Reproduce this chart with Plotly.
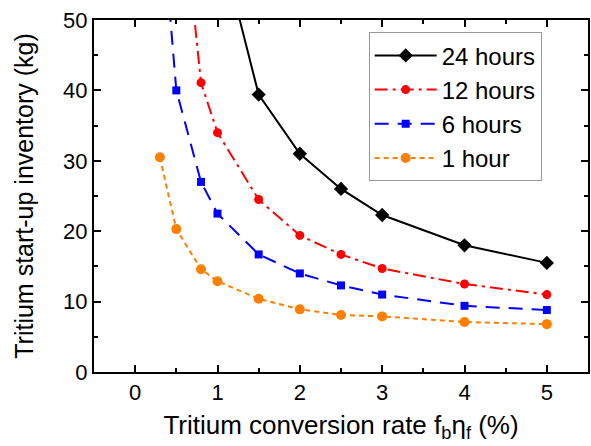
import plotly.graph_objects as go

# Tritium conversion rate f_b*eta_f (%)
x_values = [0.3, 0.5, 0.8, 1.0, 1.5, 2.0, 2.5, 3.0, 4.0, 5.0]

# Start-up inventory (kg) for each reserve time; None where no value is plotted
inv_24h = [None, None, None, 62.5, 39.4, 31.0, 26.0, 22.3, 18.0, 15.5]
inv_12h = [None, 75.0, 41.1, 34.0, 24.5, 19.4, 16.7, 14.7, 12.5, 11.0]
inv_6h = [68.0, 40.0, 27.0, 22.5, 16.7, 14.0, 12.3, 11.0, 9.4, 8.8]
inv_1h = [30.5, 20.3, 14.6, 12.9, 10.4, 8.9, 8.1, 7.9, 7.1, 6.8]

series_names = ["24 hours", "12 hours", "6 hours", "1 hour"]

x_tickvals = [0, 1, 2, 3, 4, 5]
y_tickvals = [0, 10, 20, 30, 40, 50]

FONT = "Liberation Sans, Arial, sans-serif"

styles = [
    dict(color="black", dash="solid", symbol="diamond", size=11),
    dict(color="#ff0000", dash="13px,5px,3px,5px", symbol="circle", size=9),
    dict(color="#0000ff", dash="14px,9px", symbol="square", size=8),
    dict(color="#ff8000", dash="5px,4px", symbol="circle", size=10),
]

fig = go.Figure()
for name, ys, st in zip(series_names, [inv_24h, inv_12h, inv_6h, inv_1h], styles):
    fig.add_trace(go.Scatter(
        x=x_values, y=ys, name=name, mode="lines+markers",
        connectgaps=False,
        line=dict(color=st["color"], width=2, dash=st["dash"]),
        marker=dict(symbol=st["symbol"], size=st["size"], color=st["color"]),
    ))

axis_common = dict(
    showline=True, linecolor="black", linewidth=2, mirror="allticks",
    ticks="inside", ticklen=7, tickwidth=2, tickcolor="black",
    showgrid=False, zeroline=False,
    tickfont=dict(family=FONT, size=22, color="black"),
)

fig.update_xaxes(
    range=[-0.5, 5.5], tickvals=x_tickvals,
    minor=dict(ticks="inside", ticklen=4, tickwidth=2, dtick=0.5, tick0=0, tickcolor="black"),
    title=dict(text="Tritium conversion rate f<sub>b</sub>η<sub>f</sub> (%)",
               font=dict(family=FONT, size=26, color="black"), standoff=11),
    **axis_common,
)
fig.update_yaxes(
    range=[0, 50], tickvals=y_tickvals,
    minor=dict(ticks="inside", ticklen=4, tickwidth=2, dtick=5, tick0=0, tickcolor="black"),
    title=dict(text="Tritium start-up inventory (kg)",
               font=dict(family=FONT, size=25, color="black"), standoff=22),
    **axis_common,
)

fig.update_layout(
    width=591, height=446,
    margin=dict(l=94, r=1, t=20, b=74),
    paper_bgcolor="white", plot_bgcolor="white",
    showlegend=True,
    legend=dict(
        x=0.556, y=0.965, xanchor="left", yanchor="top",
        bordercolor="#999999", borderwidth=1, bgcolor="white",
        font=dict(family=FONT, size=24, color="black"),
        itemwidth=62, tracegroupgap=0,
    ),
)

fig.write_html("out.html")
